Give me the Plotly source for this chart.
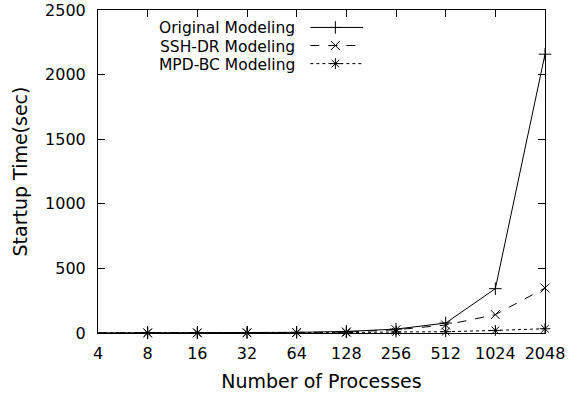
import plotly.graph_objects as go
import math

procs = [4, 8, 16, 32, 64, 128, 256, 512, 1024, 2048]
proc_labels = [str(p) for p in procs]
original = [1, 1.5, 2, 3, 5, 12, 30, 77, 343, 2158]
ssh_dr = [1, 1, 1.5, 2, 4, 8, 25, 62, 142, 348]
mpd_bc = [0.5, 0.5, 1, 1, 2, 3, 8, 10, 20, 33]
series_names = ["Original Modeling", "SSH-DR Modeling", "MPD-BC Modeling"]
y_ticks = [0, 500, 1000, 1500, 2000, 2500]

FONT = "DejaVu Sans, Arial, sans-serif"
styles = [
    dict(dash="solid", symbol="cross-thin"),
    dict(dash="dash", symbol="x-thin"),
    dict(dash="dot", symbol="asterisk"),
]
MSIZE = 9

fig = go.Figure()
for name, vals, st in zip(series_names, [original, ssh_dr, mpd_bc], styles):
    fig.add_trace(go.Scatter(
        x=procs, y=vals, name=name, mode="lines+markers",
        line=dict(color="black", width=1, dash=st["dash"]),
        marker=dict(symbol=st["symbol"], size=MSIZE, color="black",
                    line=dict(color="black", width=1)),
        showlegend=False, cliponaxis=False,
    ))

# manual gnuplot-style legend (text right-aligned, sample to the right)
leg_y = [0.946, 0.890, 0.834]
for name, st, ly in zip(series_names, styles, leg_y):
    fig.add_trace(go.Scatter(
        x=[0.475, 0.593], y=[ly, ly], xaxis="x2", yaxis="y2",
        mode="lines", line=dict(color="black", width=1, dash=st["dash"]),
        showlegend=False, hoverinfo="skip",
    ))
    fig.add_trace(go.Scatter(
        x=[0.531], y=[ly], xaxis="x2", yaxis="y2", mode="markers",
        marker=dict(symbol=st["symbol"], size=MSIZE, color="black",
                    line=dict(color="black", width=1)),
        showlegend=False, hoverinfo="skip",
    ))
    fig.add_annotation(
        x=0.446, y=ly, xref="x2", yref="y2", text=name, showarrow=False,
        xanchor="right", yanchor="middle", yshift=-1,
        font=dict(size=15.5, color="black", family=FONT),
    )

fig.update_layout(
    width=571, height=396,
    margin=dict(l=98, r=26, t=10, b=63),
    paper_bgcolor="white", plot_bgcolor="white",
    font=dict(family=FONT, size=16, color="black"),
    xaxis=dict(
        type="log", range=[math.log10(procs[0]), math.log10(procs[-1])],
        tickmode="array", tickvals=procs, ticktext=proc_labels,
        ticks="inside", ticklen=7, tickcolor="black", ticklabelstandoff=6,
        showline=True, linecolor="black", linewidth=1, mirror="ticks",
        showgrid=False, zeroline=False, automargin=False,
        title=dict(text="Number of Processes", standoff=12),
    ),
    yaxis=dict(
        range=[0, 2500], tickmode="array", tickvals=y_ticks,
        ticks="inside", ticklen=7, tickcolor="black", ticklabelstandoff=8,
        showline=True, linecolor="black", linewidth=1, mirror="ticks",
        showgrid=False, zeroline=False, automargin=False,
        title=dict(text="Startup Time(sec)", standoff=12),
    ),
    xaxis2=dict(overlaying="x", range=[0, 1], visible=False),
    yaxis2=dict(overlaying="y", range=[0, 1], visible=False),
)

fig.write_html("out.html")
